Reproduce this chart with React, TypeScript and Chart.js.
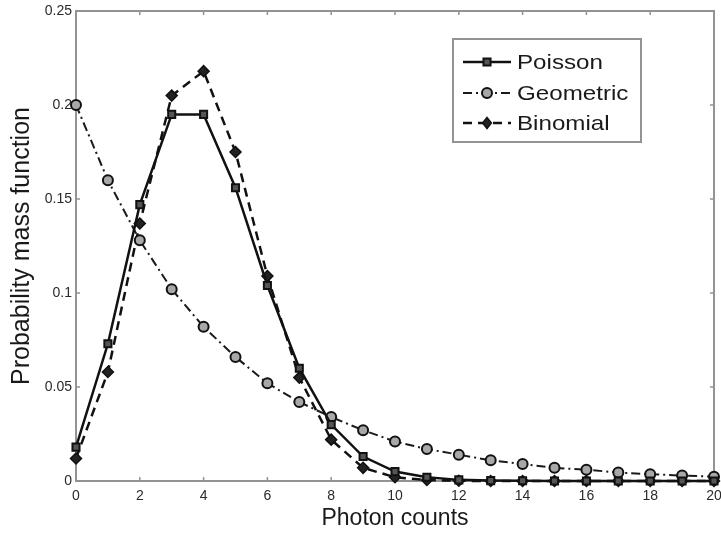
import React, { useEffect, useRef } from "react";
import { Chart, registerables } from "chart.js";

Chart.register(...registerables);

const photonCounts = [0, 1, 2, 3, 4, 5, 6, 7, 8, 9, 10, 11, 12, 13, 14, 15, 16, 17, 18, 19, 20];
const poisson = [0.018, 0.073, 0.147, 0.195, 0.195, 0.156, 0.104, 0.06, 0.03, 0.013, 0.005, 0.002, 0.0006, 0.0002, 0.0001, 0, 0, 0, 0, 0, 0];
const geometric = [0.2, 0.16, 0.128, 0.102, 0.082, 0.066, 0.052, 0.042, 0.034, 0.027, 0.021, 0.017, 0.014, 0.011, 0.009, 0.007, 0.006, 0.0045, 0.0036, 0.0029, 0.0023];
const binomial = [0.012, 0.058, 0.137, 0.205, 0.218, 0.175, 0.109, 0.055, 0.022, 0.007, 0.002, 0.0005, 0.0001, 0, 0, 0, 0, 0, 0, 0, 0];
const seriesNames = ["Poisson", "Geometric", "Binomial"];
const xTitle = "Photon counts";
const yTitle = "Probability mass function";

const FONT = "'Liberation Sans', Arial, sans-serif";
const AXIS_GRAY = "#939393";

const toPoints = (ys: number[]) => photonCounts.map((x, i) => ({ x, y: ys[i] }));

function drawMarker(ctx: CanvasRenderingContext2D, style: string, r: number, x: number, y: number) {
  ctx.beginPath();
  if (style === "rect") {
    const s = r * Math.SQRT1_2 * 2;
    ctx.rect(x - s / 2, y - s / 2, s, s);
  } else if (style === "rectRot") {
    ctx.moveTo(x, y - r);
    ctx.lineTo(x + r * 0.8, y);
    ctx.lineTo(x, y + r);
    ctx.lineTo(x - r * 0.8, y);
    ctx.closePath();
  } else {
    ctx.arc(x, y, r, 0, Math.PI * 2);
  }
  ctx.fill();
  ctx.stroke();
}

const boxPlugin = {
  id: "matlabBox",
  beforeDatasetsDraw(chart: any) {
    const { ctx, chartArea: a, scales } = chart;
    ctx.save();
    ctx.strokeStyle = AXIS_GRAY;
    ctx.lineWidth = 2;
    ctx.strokeRect(a.left, a.top, a.right - a.left, a.bottom - a.top);
    ctx.lineWidth = 1.5;
    const tl = 4;
    scales.x.ticks.forEach((t: any) => {
      const px = scales.x.getPixelForValue(t.value);
      ctx.beginPath();
      ctx.moveTo(px, a.bottom);
      ctx.lineTo(px, a.bottom - tl);
      ctx.moveTo(px, a.top);
      ctx.lineTo(px, a.top + tl);
      ctx.stroke();
    });
    scales.y.ticks.forEach((t: any) => {
      const py = scales.y.getPixelForValue(t.value);
      ctx.beginPath();
      ctx.moveTo(a.left, py);
      ctx.lineTo(a.left + tl, py);
      ctx.moveTo(a.right, py);
      ctx.lineTo(a.right - tl, py);
      ctx.stroke();
    });
    ctx.restore();
  },
};

const legendPlugin = {
  id: "matlabLegend",
  afterDatasetsDraw(chart: any) {
    const { ctx } = chart;
    const bx = 453, by = 39, bw = 188, bh = 103;
    ctx.save();
    ctx.fillStyle = "#ffffff";
    ctx.fillRect(bx, by, bw, bh);
    ctx.strokeStyle = AXIS_GRAY;
    ctx.lineWidth = 2;
    ctx.strokeRect(bx, by, bw, bh);
    const rowsY = [62, 93, 123];
    chart.data.datasets.forEach((ds: any, i: number) => {
      const y = rowsY[i];
      ctx.strokeStyle = ds.borderColor;
      ctx.lineWidth = ds.borderWidth;
      ctx.setLineDash(ds.borderDash || []);
      ctx.beginPath();
      ctx.moveTo(463, y);
      ctx.lineTo(511, y);
      ctx.stroke();
      ctx.setLineDash([]);
      ctx.fillStyle = ds.pointBackgroundColor;
      ctx.strokeStyle = ds.pointBorderColor;
      ctx.lineWidth = ds.pointBorderWidth;
      drawMarker(ctx, ds.pointStyle, ds.pointRadius, 487, y);
      ctx.save();
      ctx.translate(517, y + 1);
      ctx.scale(1.15, 1);
      ctx.fillStyle = "#1a1a1a";
      ctx.font = `21px ${FONT}`;
      ctx.textBaseline = "middle";
      ctx.textAlign = "left";
      ctx.fillText(ds.label, 0, 0);
      ctx.restore();
    });
    ctx.restore();
  },
};

export default function App() {
  const ref = useRef<HTMLCanvasElement | null>(null);
  useEffect(() => {
    if (!ref.current) return;
    const chart = new Chart(ref.current, {
      type: "line",
      data: {
        datasets: [
          {
            label: seriesNames[0],
            data: toPoints(poisson),
            borderColor: "#111111",
            borderWidth: 2.5,
            borderDash: [],
            pointStyle: "rect",
            pointRadius: 5,
            pointBackgroundColor: "#555555",
            pointBorderColor: "#111111",
            pointBorderWidth: 2,
            clip: false,
          },
          {
            label: seriesNames[1],
            data: toPoints(geometric),
            borderColor: "#1a1a1a",
            borderWidth: 2,
            borderDash: [9, 4, 2, 4],
            pointStyle: "circle",
            pointRadius: 5,
            pointBackgroundColor: "#a8a8a8",
            pointBorderColor: "#111111",
            pointBorderWidth: 2,
            clip: false,
          },
          {
            label: seriesNames[2],
            data: toPoints(binomial),
            borderColor: "#111111",
            borderWidth: 2.5,
            borderDash: [9, 6],
            pointStyle: "rectRot",
            pointRadius: 5.5,
            pointBackgroundColor: "#222222",
            pointBorderColor: "#111111",
            pointBorderWidth: 1.5,
            clip: false,
          },
        ] as any,
      },
      options: {
        animation: false,
        responsive: false,
        maintainAspectRatio: false,
        layout: { padding: { top: 11, right: 5, left: 0, bottom: 0 } },
        plugins: { legend: { display: false }, tooltip: { enabled: false } },
        elements: { line: { tension: 0 } },
        scales: {
          x: {
            type: "linear",
            min: 0,
            max: 20,
            border: { display: false },
            grid: { display: false, drawTicks: false },
            ticks: {
              stepSize: 2,
              padding: 7,
              color: "#2a2a2a",
              font: { family: FONT, size: 14 },
              maxRotation: 0,
            },
            title: {
              display: true,
              text: xTitle,
              color: "#1a1a1a",
              font: { family: FONT, size: 23 },
              padding: { top: 0, bottom: 1 },
            },
            afterFit(scale: any) {
              scale.height = 52;
              scale.paddingLeft = 0;
              scale.paddingRight = 0;
            },
          },
          y: {
            type: "linear",
            min: 0,
            max: 0.25,
            border: { display: false },
            grid: { display: false, drawTicks: false },
            ticks: {
              stepSize: 0.05,
              padding: 4,
              color: "#2a2a2a",
              font: { family: FONT, size: 14 },
              callback: (v: any) => String(Number(Number(v).toFixed(2))),
            },
            title: {
              display: true,
              text: yTitle,
              color: "#1a1a1a",
              font: { family: FONT, size: 25 },
              padding: { top: 7, bottom: 0 },
            },
            afterFit(scale: any) {
              scale.width = 76;
              scale.paddingTop = 0;
              scale.paddingBottom = 0;
            },
          },
        },
      } as any,
      plugins: [boxPlugin, legendPlugin],
    });
    return () => chart.destroy();
  }, []);
  return (
    <div style={{ position: "fixed", left: 0, top: 0, width: 721, height: 533, background: "#fff" }}>
      <canvas ref={ref} width={721} height={533} style={{ width: 721, height: 533 }} />
    </div>
  );
}
